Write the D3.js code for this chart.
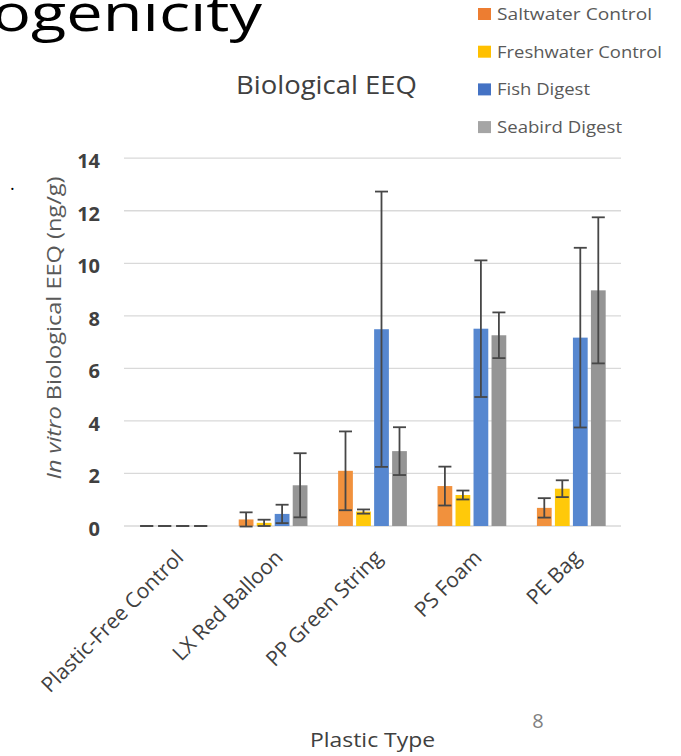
<!DOCTYPE html>
<html>
<head>
<meta charset="utf-8">
<script src="https://cdn.jsdelivr.net/npm/d3@7"></script>
<style>
  body { margin: 0; background: #fff; }
  svg { display: block; }
</style>
</head>
<body>
<svg id="chart"></svg>
<script>
// data
const categories = ["Plastic-Free Control", "LX Red Balloon", "PP Green String", "PS Foam", "PE Bag"];
const series = ["Saltwater Control", "Freshwater Control", "Fish Digest", "Seabird Digest"];
const saltwater = [0, 0.25, 2.1, 1.52, 0.69];
const saltwaterErr = [0, 0.27, 1.5, 0.74, 0.37];
const freshwater = [0, 0.12, 0.55, 1.18, 1.42];
const freshwaterErr = [0, 0.12, 0.08, 0.17, 0.32];
const fish = [0, 0.46, 7.49, 7.51, 7.17];
const fishErr = [0, 0.35, 5.24, 2.6, 3.42];
const seabird = [0, 1.55, 2.85, 7.26, 8.97];
const seabirdErr = [0, 1.22, 0.91, 0.87, 2.78];
const yTicks = [0, 2, 4, 6, 8, 10, 12, 14];

const values = [saltwater, freshwater, fish, seabird];
const errors = [saltwaterErr, freshwaterErr, fishErr, seabirdErr];
const bar_cols = ["#f1913d", "#ffc90a", "#5687d0", "#959595"];
const legend_cols = ["#ed7d31", "#ffc000", "#4472c4", "#a5a5a5"];
const legend_len = [155, 165, 93, 125];
const font = "'Open Sans', Lato, sans-serif";

var width = 681, height = 756;
var plot_left = 124, plot_right = 621, y0 = 526, y14 = 158.2;

var svg = d3.select("#chart").attr("width", width).attr("height", height);

var x0 = d3.scaleBand().domain(categories).range([plot_left, plot_right]);
var x1 = d3.scaleBand().domain(series)
  .range([x0.bandwidth() / 2 - 36, x0.bandwidth() / 2 + 36])
  .paddingInner(0.18).paddingOuter(0.09);
var y = d3.scaleLinear().domain([0, 14]).range([y0, y14]);

// slide leftovers (cut off in the original too)
svg.append("text")
  .attr("x", -8).attr("y", 31)
  .attr("font-family", font)
  .attr("font-size", "52px")
  .attr("textLength", 270)
  .attr("lengthAdjust", "spacingAndGlyphs")
  .attr("fill", "#000")
  .text("ogenicity");

svg.append("text")
  .attr("x", 10).attr("y", 190)
  .attr("font-family", font)
  .attr("font-size", "18px")
  .attr("fill", "#000")
  .text(".");

// gridlines
svg.append("g")
  .selectAll("line")
  .data(yTicks)
  .enter()
  .append("line")
  .attr("x1", plot_left)
  .attr("x2", plot_right)
  .attr("y1", d => y(d))
  .attr("y2", d => y(d))
  .attr("stroke", "#d9d9d9")
  .attr("stroke-width", 1.3);

// y axis labels
svg.append("g")
  .selectAll("text")
  .data(yTicks)
  .enter()
  .append("text")
  .attr("x", 100)
  .attr("y", d => y(d) + 10)
  .attr("text-anchor", "end")
  .attr("font-family", font)
  .attr("font-weight", "bold")
  .attr("font-size", "20px")
  .attr("fill", "#404040")
  .text(d => d);

// bars
var groups = svg.append("g")
  .selectAll("g")
  .data(categories)
  .enter()
  .append("g")
  .attr("transform", d => "translate(" + x0(d) + ",0)");

const rows = (d, i) => series.map((s, j) => ({ s: s, j: j, v: values[j][i], e: errors[j][i] }));

groups.selectAll("rect")
  .data(rows)
  .enter()
  .append("rect")
  .attr("x", d => x1(d.s))
  .attr("width", x1.bandwidth())
  .attr("y", d => y(d.v))
  .attr("height", d => y0 - y(d.v))
  .attr("fill", d => bar_cols[d.j]);

// error bars
var err = groups.selectAll("g.err")
  .data(rows)
  .enter()
  .append("g")
  .attr("class", "err")
  .attr("stroke", "#474747")
  .attr("stroke-width", 1.8);

err.append("line")
  .attr("x1", d => x1(d.s) + x1.bandwidth() / 2)
  .attr("x2", d => x1(d.s) + x1.bandwidth() / 2)
  .attr("y1", d => y(d.v + d.e))
  .attr("y2", d => y(d.v - d.e));

[1, -1].forEach(function (sign) {
  err.append("line")
    .attr("x1", d => x1(d.s) + x1.bandwidth() / 2 - 6.5)
    .attr("x2", d => x1(d.s) + x1.bandwidth() / 2 + 6.5)
    .attr("y1", d => y(d.v + sign * d.e))
    .attr("y2", d => y(d.v + sign * d.e));
});

// x labels
svg.append("g")
  .selectAll("text")
  .data(categories)
  .enter()
  .append("text")
  .attr("transform", d => "translate(" + (x0(d) + x0.bandwidth() / 2 + 11) + ",559) rotate(-45)")
  .attr("text-anchor", "end")
  .attr("font-family", font)
  .attr("font-size", "21px")
  .attr("fill", "#404040")
  .text(d => d);

// axis titles
var yt = svg.append("text")
  .attr("transform", "translate(61,328) rotate(-90)")
  .attr("text-anchor", "middle")
  .attr("font-family", font)
  .attr("font-size", "20px")
  .attr("textLength", 303)
  .attr("lengthAdjust", "spacingAndGlyphs")
  .attr("fill", "#595959");
yt.append("tspan").attr("font-style", "italic").text("In vitro");
yt.append("tspan").text(" Biological EEQ (ng/g)");

svg.append("text")
  .attr("x", 310)
  .attr("y", 747)
  .attr("font-family", font)
  .attr("font-size", "20px")
  .attr("textLength", 125)
  .attr("lengthAdjust", "spacingAndGlyphs")
  .attr("fill", "#404040")
  .text("Plastic Type");

svg.append("text")
  .attr("x", 236).attr("y", 94)
  .attr("font-family", font)
  .attr("font-size", "26px")
  .attr("textLength", 181)
  .attr("lengthAdjust", "spacingAndGlyphs")
  .attr("fill", "#404040")
  .text("Biological EEQ");

svg.append("text")
  .attr("x", 538).attr("y", 728)
  .attr("text-anchor", "middle")
  .attr("font-family", font)
  .attr("font-size", "20px")
  .attr("fill", "#808080")
  .text("8");

// legend, sits on top of the chart
var legend = svg.append("g");
legend.append("rect")
  .attr("x", 456).attr("y", 0)
  .attr("width", width - 456).attr("height", 146)
  .attr("fill", "#fff");

var items = legend.selectAll("g")
  .data(series)
  .enter()
  .append("g")
  .attr("transform", (d, i) => "translate(478," + (14 + i * 37.7) + ")");

items.append("rect")
  .attr("x", 0).attr("y", -6)
  .attr("width", 13).attr("height", 12)
  .attr("fill", (d, i) => legend_cols[i]);

items.append("text")
  .attr("x", 19).attr("y", 6)
  .attr("font-family", font)
  .attr("font-size", "16px")
  .attr("textLength", (d, i) => legend_len[i])
  .attr("lengthAdjust", "spacingAndGlyphs")
  .attr("fill", "#595959")
  .text(d => d);
</script>
</body>
</html>
